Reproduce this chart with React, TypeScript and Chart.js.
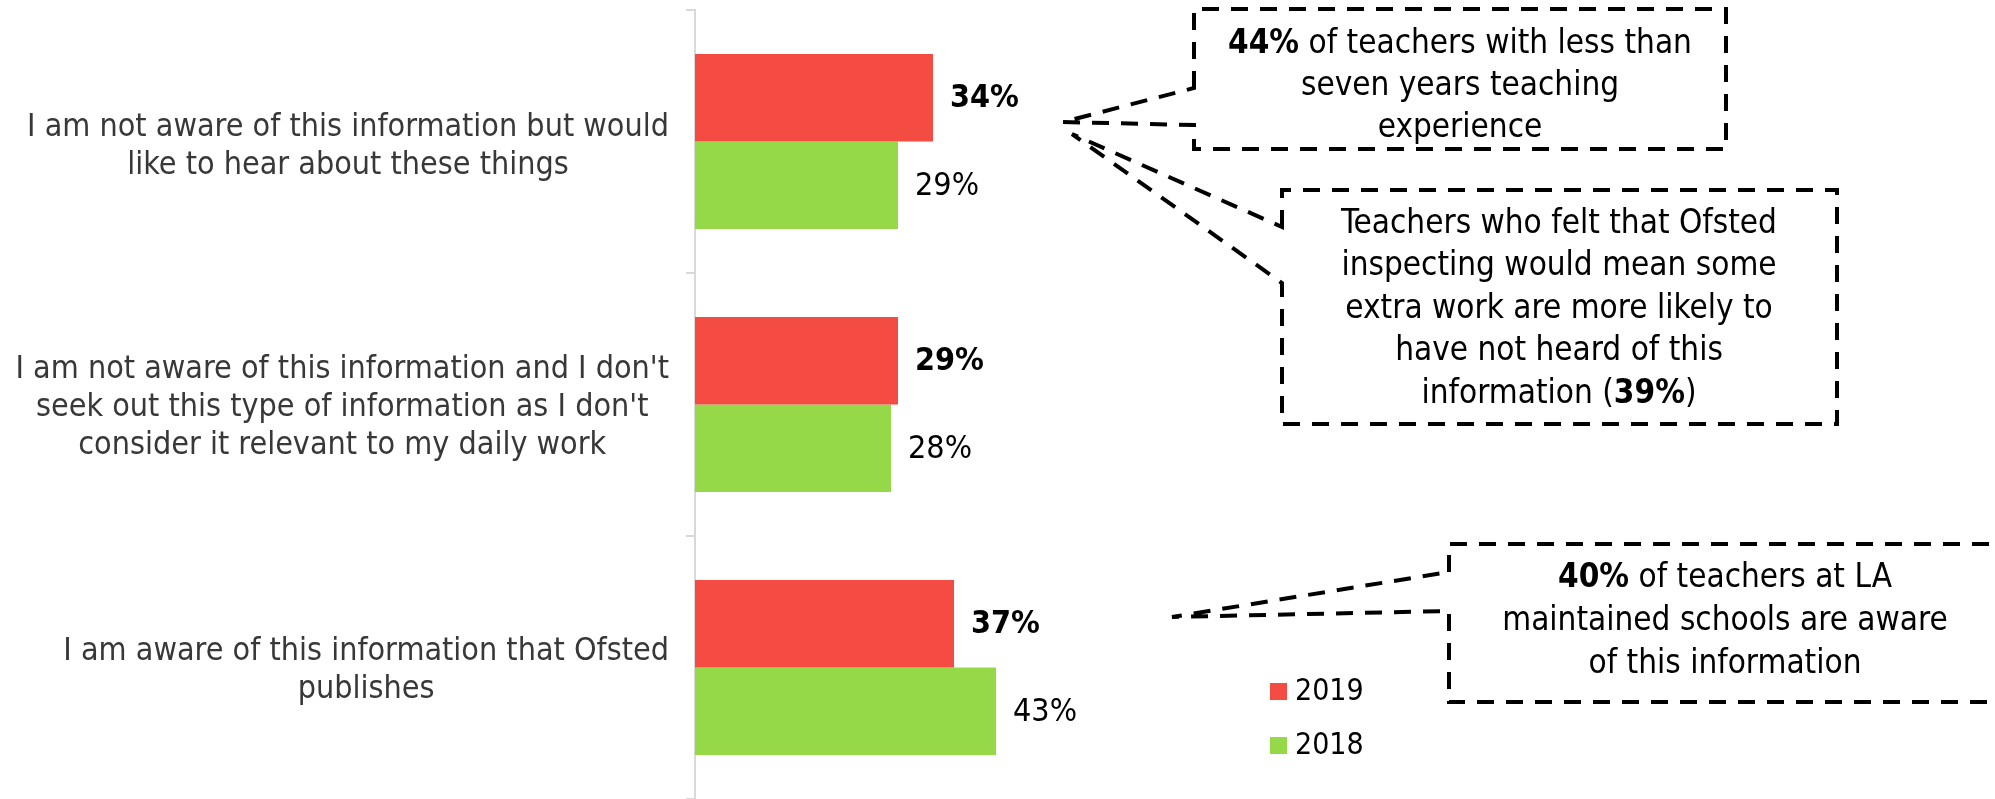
import React, { useEffect, useRef } from 'react';
import { Chart, registerables } from 'chart.js';

Chart.register(...registerables);

// ---------- data ----------
const categories: string[][] = [
  ['I am not aware of this information but would', 'like to hear about these things'],
  ["I am not aware of this information and I don't", "seek out this type of information as I don't", 'consider it relevant to my daily work'],
  ['I am aware of this information that Ofsted', 'publishes'],
];
const seriesNames = ['2019', '2018'];
const values2019 = [34, 29, 37];
const values2018 = [29, 28, 43];

type Seg = { t: string; b?: boolean };
const calloutText1: Seg[][] = [
  [{ t: '44%', b: true }, { t: ' of teachers with less than' }],
  [{ t: 'seven years teaching' }],
  [{ t: 'experience' }],
];
const calloutText2: Seg[][] = [
  [{ t: 'Teachers who felt that Ofsted' }],
  [{ t: 'inspecting would mean some' }],
  [{ t: 'extra work are more likely to' }],
  [{ t: 'have not heard of this' }],
  [{ t: 'information (' }, { t: '39%', b: true }, { t: ')' }],
];
const calloutText3: Seg[][] = [
  [{ t: '40%', b: true }, { t: ' of teachers at LA' }],
  [{ t: 'maintained schools are aware' }],
  [{ t: 'of this information' }],
];

// ---------- styles / layout ----------
const FONT = '"DejaVu Sans Condensed", "DejaVu Sans", sans-serif';
const COLORS = ['#F44B42', '#96D948'];
const CAT_SIZE = 32;
const CAT_LINE = 38;
const NUM_SIZE = 32;
const LEGEND_SIZE = 30;
const CALL_SIZE = 33;

const calloutLayout = [
  { text: calloutText1, cx: 1460, cy: 86, lh: 42, path: [[1194, 88], [1194, 9], [1726, 9], [1726, 149], [1194, 149], [1194, 125], [1063, 122]] },
  { text: calloutText2, cx: 1559, cy: 309, lh: 42.5, path: [[1282, 227], [1282, 190], [1837, 190], [1837, 424], [1282, 424], [1282, 283], [1072, 134]] },
  { text: calloutText3, cx: 1725, cy: 621, lh: 43, path: [[1449, 572], [1449, 544], [2002, 544], [2002, 702], [1449, 702], [1449, 611], [1172, 617]] },
];

function drawRich(ctx: CanvasRenderingContext2D, segs: Seg[], cx: number, cy: number, size: number) {
  const fonts = segs.map((s) => `${s.b ? 'bold ' : ''}${size}px ${FONT}`);
  const widths = segs.map((s, i) => {
    ctx.font = fonts[i];
    return ctx.measureText(s.t).width;
  });
  const total = widths.reduce((a, b) => a + b, 0);
  let x = cx - total / 2;
  ctx.textAlign = 'left';
  segs.forEach((s, i) => {
    ctx.font = fonts[i];
    ctx.fillText(s.t, x, cy);
    x += widths[i];
  });
}

const overlay = {
  id: 'overlay',
  afterDraw(chart: any) {
    const ctx: CanvasRenderingContext2D = chart.ctx;
    const yScale = chart.scales.y;
    const area = chart.chartArea;
    ctx.save();
    ctx.textBaseline = 'middle';

    // category labels (lines centered within each block, block right-aligned)
    ctx.font = `${CAT_SIZE}px ${FONT}`;
    ctx.fillStyle = '#383838';
    ctx.textAlign = 'center';
    const labelRight = area.left - 26;
    categories.forEach((lines, i) => {
      const cy = yScale.getPixelForValue(i) + (i === 0 ? 5 : 3);
      const widest = Math.max(...lines.map((l) => ctx.measureText(l).width));
      const cx = labelRight - widest / 2;
      const start = cy - ((lines.length - 1) * CAT_LINE) / 2;
      lines.forEach((l, k) => ctx.fillText(l, cx, start + k * CAT_LINE));
    });

    // data labels
    ctx.fillStyle = '#000';
    ctx.textAlign = 'left';
    chart.data.datasets.forEach((ds: any, di: number) => {
      const meta = chart.getDatasetMeta(di);
      ctx.font = `${di === 0 ? 'bold ' : ''}${NUM_SIZE}px ${FONT}`;
      meta.data.forEach((bar: any, i: number) => {
        ctx.fillText(`${ds.data[i]}%`, bar.x + 17, bar.y + 1);
      });
    });

    // legend
    chart.data.datasets.forEach((ds: any, di: number) => {
      const ly = 691 + di * 54;
      ctx.fillStyle = ds.backgroundColor;
      ctx.fillRect(1270, ly - 8, 17, 17);
      ctx.fillStyle = '#000';
      ctx.font = `${LEGEND_SIZE}px ${FONT}`;
      ctx.fillText(ds.label, 1295, ly + 1);
    });

    // callouts
    ctx.strokeStyle = '#000';
    ctx.lineWidth = 4;
    ctx.setLineDash([17, 12]);
    ctx.lineCap = 'butt';
    ctx.lineJoin = 'miter';
    calloutLayout.forEach((c) => {
      ctx.beginPath();
      ctx.moveTo(c.path[0][0], c.path[0][1]);
      for (let k = 1; k < c.path.length; k++) ctx.lineTo(c.path[k][0], c.path[k][1]);
      ctx.closePath();
      ctx.stroke();
    });
    ctx.setLineDash([]);
    ctx.fillStyle = '#000';
    calloutLayout.forEach((c) => {
      const start = c.cy - ((c.text.length - 1) * c.lh) / 2;
      c.text.forEach((segs, k) => drawRich(ctx, segs, c.cx, start + k * c.lh, CALL_SIZE));
    });
    ctx.restore();
  },
};

export default function App() {
  const ref = useRef<HTMLCanvasElement | null>(null);
  useEffect(() => {
    if (!ref.current) return;
    const chart = new Chart(ref.current, {
      type: 'bar',
      data: {
        labels: categories.map((c) => c.join(' ')),
        datasets: [
          { label: seriesNames[0], data: values2019, backgroundColor: COLORS[0], borderWidth: 0 },
          { label: seriesNames[1], data: values2018, backgroundColor: COLORS[1], borderWidth: 0 },
        ],
      },
      options: {
        indexAxis: 'y',
        responsive: false,
        animation: false,
        layout: { padding: { left: 686, right: 600, top: 10, bottom: 0 } },
        datasets: { bar: { categoryPercentage: 0.665, barPercentage: 1 } },
        plugins: { legend: { display: false }, tooltip: { enabled: false } },
        scales: {
          x: { display: false, min: 0, max: 100 },
          y: {
            grid: { drawOnChartArea: false, drawTicks: true, tickLength: 9, color: '#d9d9d9', lineWidth: 2, offset: true },
            border: { color: '#d9d9d9', width: 2 },
            ticks: { display: false },
          },
        },
      } as any,
      plugins: [overlay],
    });
    return () => chart.destroy();
  }, []);
  return (
    <div style={{ position: 'absolute', left: 0, top: 0, width: 1995, height: 799, background: '#fff' }}>
      <canvas ref={ref} width={1995} height={799} style={{ width: 1995, height: 799, display: 'block' }} />
    </div>
  );
}
